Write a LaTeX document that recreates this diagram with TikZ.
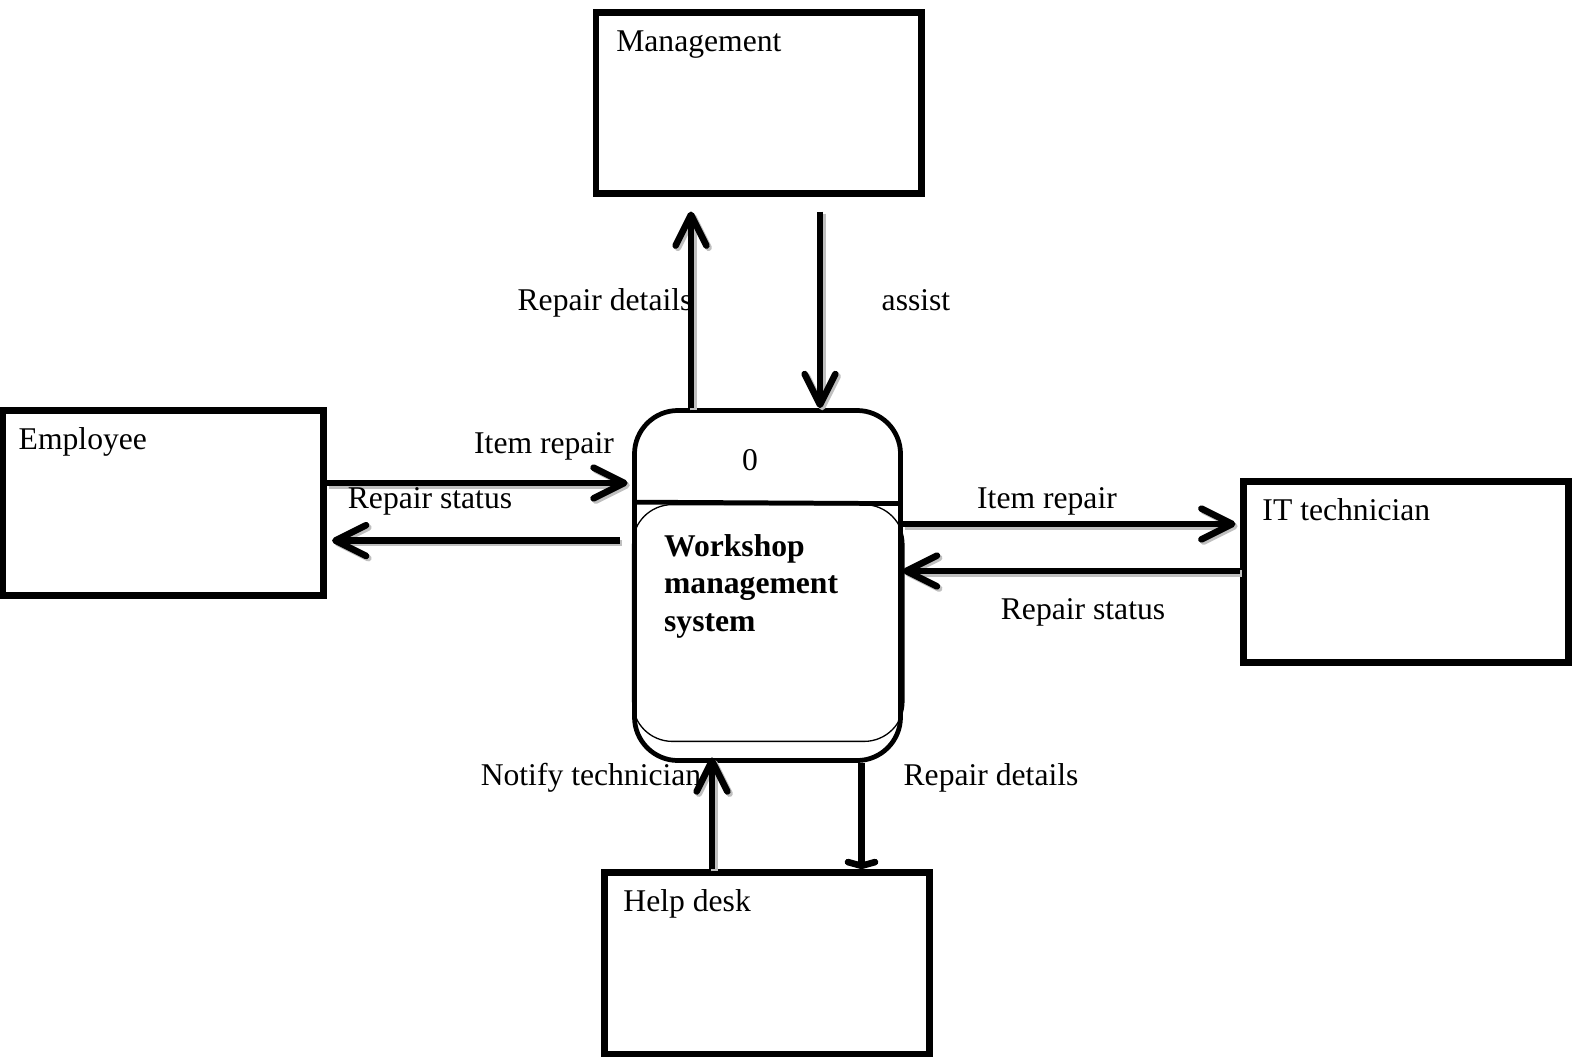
\documentclass[tikz,border=0pt]{standalone}
\usepackage{fontspec}
\setmainfont{Liberation Serif}
\usetikzlibrary{%
    arrows.meta,
    calc,
    positioning,
}
\tikzset{%
    base/.style = {
        inner sep=0pt,
        font=\fontsize{12}{14}\selectfont,
    },
    entity/.style = {
        draw,
        line width=2.5pt,
        minimum width=43.4mm,
        minimum height=24.2mm,
        inner sep=0pt,
    },
    entname/.style = {
        base,
        anchor=base west,
    },
    process/.style = {
        draw,
        line width=1.8pt,
        rounded corners=5.8mm,
        minimum width=35.47mm,
        minimum height=46.67mm,
        inner sep=0pt,
    },
    proctitle/.style = {
        base,
        font=\fontsize{12}{14.3}\selectfont\bfseries,
        align=left,
        anchor=north west,
    },
    flow/.style = {
        line width=2.5pt,
        -{Straight Barb[length=4.1mm,width=4.1mm,line cap=round,line join=round]},
    },
    flowshadow/.style = {
        draw=gray!50,
    },
    thinflow/.style = {
        line width=2.5pt,
        -{Straight Barb[length=0.5mm,width=3.6mm,line cap=round]},
    },
    flowlabel/.style = {
        base,
        anchor=base,
    },
}
% data flow with its grey shadow
\newcommand{\dataflow}[3][]{%
    \draw [flow, flowshadow, #1] ($#2+(2.2,2.2)$) -- ($#3+(2.2,2.2)$);
    \draw [flow, #1] #2 -- #3;
}

\begin{document}
\begin{tikzpicture}[x=0.13333mm, y=-0.13333mm]
    \useasboundingbox (0,0) rectangle (1578,1057);

    % external entities
    \node [entity] (mgmt) at (758.8,103) {};
    \node [entity, minimum width=42.8mm, minimum height=24.7mm] (emp) at (163,503) {};
    \node [entity] (it) at (1406,572) {};
    \node [entity] (help) at (767,963.3) {};
    \node [entname] (mgmtname) at ($(mgmt.north west)+(23,42.5)$) {Management};
    \node [entname] (empname) at ($(emp.north west)+(19,42)$) {Employee};
    \node [entname] (itname) at ($(it.north west)+(22,42.5)$) {IT technician};
    \node [entname] (helpname) at ($(help.north west)+(22,42)$) {Help desk};

    % process
    \node [process] (proc) at (767.5,585.5) {};
    \draw [line width=1.8pt] ($(proc.north west)+(0,94)$) -- ($(proc.north east)+(0,95.5)$);
    \draw [line width=0.5pt, rounded corners=5.3mm]
        ($(proc.north west)+(0.5,96.5)$) rectangle ($(proc.south east)+(1,-21.5)$);
    \node [base] (procnum) at ($(proc.north)+(-17.5,52.5)$) {0};
    \node [proctitle] (procname) at ($(proc.north west)+(31.5,125.5)$) {Workshop\\management\\system};

    % data flows
    \coordinate (upx) at (691,0);
    \coordinate (downx) at (820,0);
    \coordinate (empin) at (0,483);
    \coordinate (empout) at (0,540.6);
    \coordinate (itin) at (0,524);
    \coordinate (itout) at (0,571);
    \coordinate (helpup) at (712,0);
    \coordinate (helpdown) at (861.5,0);
    \coordinate (notifytip) at ($(proc.south -| helpup)+(0,-5.5)$);

    \dataflow[shorten >=1.93mm]{(proc.north -| upx)}{(mgmt.south -| upx)}
    \dataflow[shorten <=1.93mm]{(mgmt.south -| downx)}{(proc.north -| downx)}
    \dataflow[shorten >=0.6mm]{(emp.east |- empin)}{(proc.west |- empin)}
    \dataflow[shorten <=1.67mm, shorten >=0.7mm]{(proc.west |- empout)}{(emp.east |- empout)}
    \dataflow[shorten >=0.6mm]{(proc.east |- itin)}{(it.west |- itin)}
    \dataflow{(it.west |- itout)}{(proc.east |- itout)}
    \dataflow{(help.north -| helpup)}{(notifytip)}
    \draw [thinflow] (proc.south -| helpdown) -- (help.north -| helpdown);

    % flow labels
    \node [flowlabel] (updetails) at (605,310) {Repair details};
    \node [flowlabel] (assist) at (916,310) {assist};
    \node [flowlabel] (empitem) at (544,453.5) {Item repair};
    \node [flowlabel] (empstatus) at (430,508.4) {Repair status};
    \node [flowlabel] (ititem) at (1047,508.4) {Item repair};
    \node [flowlabel] (itstatus) at (1083,619.4) {Repair status};
    \node [flowlabel] (notify) at (591,785.5) {Notify technician};
    \node [flowlabel] (downdetails) at (991,785.5) {Repair details};
\end{tikzpicture}
\end{document}
